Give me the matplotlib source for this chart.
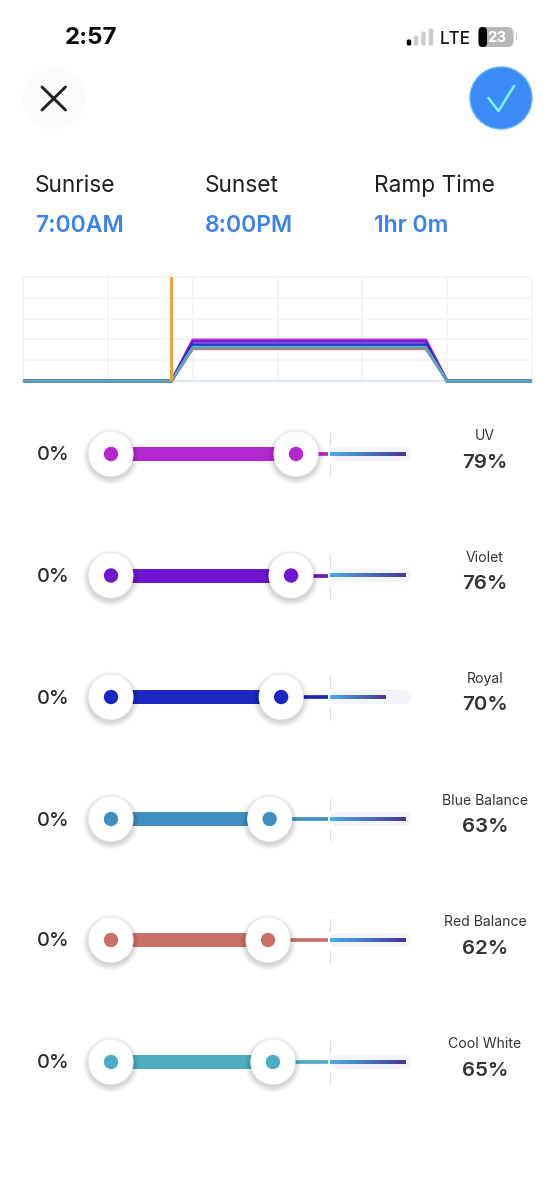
import numpy as np
import matplotlib
matplotlib.use("Agg")
import matplotlib.pyplot as plt
from matplotlib.patches import Circle, FancyBboxPatch, Rectangle

plt.rcParams['font.family'] = ['Inter', 'DejaVu Sans']

channels = ["UV", "Violet", "Royal", "Blue Balance", "Red Balance", "Cool White"]
values = [79, 76, 70, 63, 62, 65]
colors = ["#B327CE", "#7015D0", "#1A27C0", "#418FC1", "#CB7068", "#4CADC1"]
low_values = [0, 0, 0, 0, 0, 0]
row_y = [454, 575.5, 697, 819, 940, 1062]
gradient_end = [406, 406, 386, 406, 406, 406]
hours = [0, 7, 8, 19, 20, 24]
headers = ["Sunrise", "Sunset", "Ramp Time"]
header_values = ["7:00AM", "8:00PM", "1hr 0m"]
header_x = [35, 205, 374]

W, H = 555, 1200
fig = plt.figure(figsize=(W / 100, H / 100), dpi=100, facecolor="white")
ui = fig.add_axes([0, 0, 1, 1], zorder=1)
ui.set_xlim(0, W); ui.set_ylim(H, 0); ui.axis("off")
PT = 0.72


def shadow(x, y, r, dy=4, spread=8, alpha=0.012, n=10, z=2):
    for i in range(n):
        ui.add_patch(Circle((x, y + dy), r + spread * (n - i) / n, fc="black", ec="none", alpha=alpha, zorder=z))


def handle_x(v):
    return np.interp(v, [0, 62, 79], [111, 268, 296])


# Status bar
ui.text(91, 38.5, "2:57", fontsize=24 * PT, fontweight="bold", ha="center", va="center", color="#0b0b0b")
for x, h, c in zip([409, 416, 423.5, 431], [6, 10, 14, 17], ["#000000", "#cccccc", "#cccccc", "#cccccc"]):
    ui.add_patch(FancyBboxPatch((x - 2.2, 45.5 - h), 4.4, h, boxstyle="round,pad=0,rounding_size=1.5", fc=c, ec="none", zorder=3))
ui.text(455.5, 39, "LTE", fontsize=17 * PT, fontweight="medium", ha="center", va="center", color="#111111")
ui.add_patch(FancyBboxPatch((478.5, 27), 35, 20, boxstyle="round,pad=0,rounding_size=6", fc="#b8b8b8", ec="none", zorder=3))
ui.add_patch(FancyBboxPatch((478.5, 27), 8.5, 20, boxstyle="round,pad=0,rounding_size=4", fc="#050505", ec="none", zorder=4))
ui.text(497, 37.5, "23", fontsize=15 * PT, fontweight="bold", ha="center", va="center", color="white", zorder=5)
ui.add_patch(Rectangle((515.5, 34), 1.5, 6, fc="#c8c8c8", ec="none"))

# Buttons
shadow(54, 98, 31, dy=6, spread=36, alpha=0.0011, n=18)
ui.add_patch(Circle((54, 98), 31.5, fc="#fbfbfb", ec="none", zorder=3))
ui.plot([42, 65.5], [87, 110], color="#222222", lw=2.1, solid_capstyle="round", zorder=4)
ui.plot([65.5, 42], [87, 110], color="#222222", lw=2.1, solid_capstyle="round", zorder=4)
shadow(501, 98, 31, dy=6, spread=36, alpha=0.0011, n=18)
ui.add_patch(Circle((501, 98), 31, fc="#3B8AF5", ec="#62B4F5", lw=1, zorder=3))
ui.plot([488.5, 498.5, 514], [98, 111, 86], color="#7CF0FF", lw=1.9, solid_capstyle="round", solid_joinstyle="round", zorder=4)

# Headers
for x, a, b in zip(header_x, headers, header_values):
    ui.text(x, 186, a, fontsize=22.7 * PT, ha="left", va="center", color="#1f1f1f")
    ui.text(x, 226, b, fontsize=23 * PT, fontweight="semibold", ha="left", va="center", color="#3B82F0")

# Chart
ax = fig.add_axes([23 / W, 1 - 381 / H, (532 - 23) / W, (381 - 277) / H], zorder=2)
ax.patch.set_alpha(0)
ax.set_xlim(0, 24); ax.set_ylim(0, 200)
ax.set_xticks(range(0, 25, 4)); ax.set_yticks(range(0, 201, 40))
ax.tick_params(length=0, labelbottom=False, labelleft=False)
ax.grid(True, color="#F3F4F9", lw=1.3)
ax.set_axisbelow(True)
for s in ax.spines.values():
    s.set_color("#F3F4F9"); s.set_linewidth(1.3)
ax.spines["bottom"].set_color("#D5E6F5")
for v, c in zip(values, colors):
    ax.plot(hours, [0, 0, v, v, 0, 0], color=c, lw=2.0, alpha=0.92, solid_joinstyle="miter", solid_capstyle="butt", clip_on=False, zorder=3)
ax.axvline(7, color="#F2A33A", lw=2.2, zorder=4)

# Sliders
for name, v, low, c, y, ge in zip(channels, values, low_values, colors, row_y, gradient_end):
    xl, xh = handle_x(low), handle_x(v)
    ui.text(53, y + 1.5, f"{low}%", fontsize=20 * PT, fontweight="medium", ha="center", va="center", color="#2b2b2b")
    ui.add_patch(FancyBboxPatch((330, y - 7), 81, 14, boxstyle="round,pad=0,rounding_size=7", fc="#F3F4FA", ec="none", zorder=2))
    ui.plot([xh, 327.5], [y, y], color=c, lw=3.7 * PT, solid_capstyle="butt", zorder=3)
    ui.add_patch(Rectangle((xl, y - 7), xh - xl, 14, fc=c, ec="none", zorder=3))
    grad = np.linspace(0, 1, 256)[None, :, None]
    g = (1 - grad) * np.array([0.29, 0.68, 0.90]) + grad * np.array([0.29, 0.21, 0.58])
    ui.imshow(g, extent=[330, ge, y + 2, y - 2], aspect="auto", zorder=3)
    ui.plot([329.5, 329.5], [y - 21, y - 9], color="#D5DCE8", lw=1, zorder=3)
    ui.plot([329.5, 329.5], [y + 11, y + 22], color="#D5DCE8", lw=1, zorder=3)
    for hx in (xl, xh):
        shadow(hx, y, 22, dy=2.5, spread=6, alpha=0.022, n=7, z=4)
        ui.add_patch(Circle((hx, y), 22.5, fc="white", ec="none", zorder=5))
        ui.add_patch(Circle((hx, y), 7.2, fc=c, ec="none", zorder=6))
    ui.text(485, y - 18, name, fontsize=14 * PT, ha="center", va="center", color="#333333")
    ui.text(485, y + 8.5, f"{v}%", fontsize=20.5 * PT, fontweight="semibold", ha="center", va="center", color="#333333")

ui.set_xlim(0, W); ui.set_ylim(H, 0)
fig.savefig("out.png", dpi=100, facecolor="white")
